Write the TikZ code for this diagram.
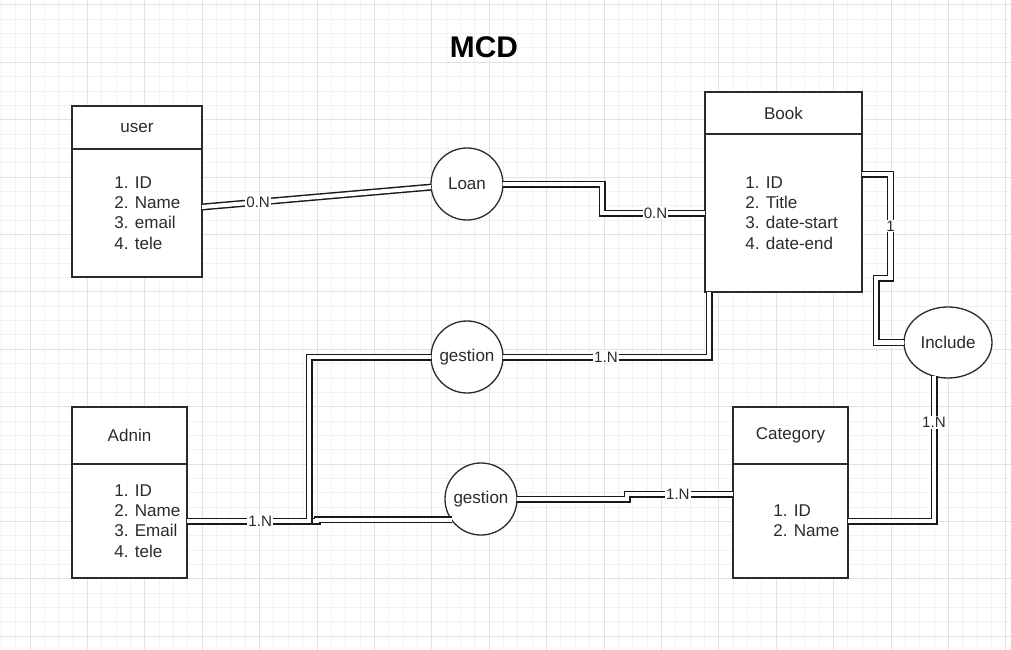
\documentclass[tikz,border=0pt]{standalone}
\usepackage{fontspec}
\setmainfont{Liberation Sans}
\usetikzlibrary{positioning,calc,shapes.geometric}

\definecolor{lineclr}{HTML}{2B2B2B}
\definecolor{gridminor}{HTML}{F2F2F2}
\definecolor{gridmajor}{HTML}{E2E2E2}

\tikzset{
  every node/.style={font=\fontsize{9.7}{11.6}\selectfont, text=lineclr},
  entHead/.style={shape=rectangle, draw=lineclr, line width=0.26mm, fill=white, inner sep=0, outer sep=0},
  entBody/.style={shape=rectangle, draw=lineclr, line width=0.26mm, fill=white, inner sep=0, outer sep=0},
  attrs/.style={align=left, inner sep=0, anchor=west},
  relation/.style={shape=circle, draw=lineclr, line width=0.26mm, fill=white, minimum size=14.4mm, inner sep=0, outer sep=0},
  relOval/.style={shape=ellipse, draw=lineclr, line width=0.26mm, fill=white, minimum width=17.6mm, minimum height=14.2mm, inner sep=0, outer sep=0},
  rel/.style={draw=black!90, line width=0.29mm, double=white, double distance=0.82mm},
  lbl/.style={fill=white, inner sep=0.6pt, font=\fontsize{8.6}{10}\selectfont}
}

\begin{document}
\begin{tikzpicture}[x=0.2mm, y=-0.2mm]
	\useasboundingbox (0,0) rectangle (1011,650);
	\fill[white] (0,0) rectangle (1011,650);

	% Grille
	\foreach \gx in {1.3,15.65,...,1011} \draw[gridminor, line width=0.2mm] (\gx,0) -- (\gx,650);
	\foreach \gy in {4.9,19.25,...,650} \draw[gridminor, line width=0.2mm] (0,\gy) -- (1011,\gy);
	\foreach \gx in {30,87.4,...,1011} \draw[gridmajor, line width=0.2mm] (\gx,0) -- (\gx,650);
	\foreach \gy in {4.9,62.3,...,650} \draw[gridmajor, line width=0.2mm] (0,\gy) -- (1011,\gy);

	% Titre
	\node[font=\bfseries\fontsize{17}{20}\selectfont, text=black] (title) at (484,47) {MCD};

	% Entites
	\node[entHead, minimum width=26mm, minimum height=8.6mm] (userHead) at (137,127.5) {user};
	\node[entBody, minimum width=26mm, minimum height=25.6mm, below=0pt of userHead] (userBody) {};
	\node[attrs] (userAttr) at ($(userBody.west)+(42,0)$) {1. ID\\2. Name\\3. email\\4. tele};

	\node[entHead, minimum width=31.4mm, minimum height=8.4mm] (bookHead) at (783.5,113) {Book};
	\node[entBody, minimum width=31.4mm, minimum height=31.6mm, below=0pt of bookHead] (bookBody) {};
	\node[attrs] (bookAttr) at ($(bookBody.west)+(40,0)$) {1. ID\\2. Title\\3. date-start\\4. date-end};

	\node[entHead, minimum width=23mm, minimum height=11.4mm] (adninHead) at (129.5,435.5) {Adnin};
	\node[entBody, minimum width=23mm, minimum height=22.8mm, below=0pt of adninHead] (adninBody) {};
	\node[attrs] (adninAttr) at ($(adninBody.west)+(42,0)$) {1. ID\\2. Name\\3. Email\\4. tele};

	\node[entHead, minimum width=23mm, minimum height=11.4mm] (catHead) at (790.5,435.5) {Category};
	\node[entBody, minimum width=23mm, minimum height=22.8mm, below=0pt of catHead] (catBody) {};
	\node[attrs] (catAttr) at ($(catBody.west)+(40,0)$) {1. ID\\2. Name};

	% Associations
	\node[relation] (loan) at (467,184) {Loan};
	\node[relation] (gestionTop) at (467,357) {gestion};
	\node[relation] (gestionBot) at (481,499) {gestion};
	\node[relOval] (include) at (948,342.5) {Include};

	% Liens
	\draw[rel] ($(userBody.east)+(0,-6)$) -- node[lbl, pos=0.245] {0.N} (loan);
	\draw[rel] (loan.east) -- ++(99,0) |- node[lbl, pos=0.76] {0.N} (bookBody.west);
	\draw[rel] ($(bookBody.east)+(0,-39)$) -- ++(28.5,0) -- node[lbl] {1} ++(0,104) -- ++(-14.5,0) |- (include.west);
	\draw[rel] ($(include.south)+(-14,-2)$) |- node[lbl, pos=0.16] {1.N} (catBody.east);
	\draw[rel] (gestionTop.east) -| node[lbl, pos=0.25] {1.N} ($(bookBody.south west)+(4,0)$);
	\draw[rel] (gestionBot.215) -| ($(adninBody.east)+(130,0)$) -- (adninBody.east);
	\draw[rel] (gestionTop.west) -| ($(adninBody.east)+(122,0)$) -- node[lbl, pos=0.4] {1.N} (adninBody.east);
	\draw[rel] (gestionBot.east) -- ++(110,0) |- node[lbl, pos=0.74] {1.N} ($(catBody.west)+(0,-27)$);
\end{tikzpicture}
\end{document}
